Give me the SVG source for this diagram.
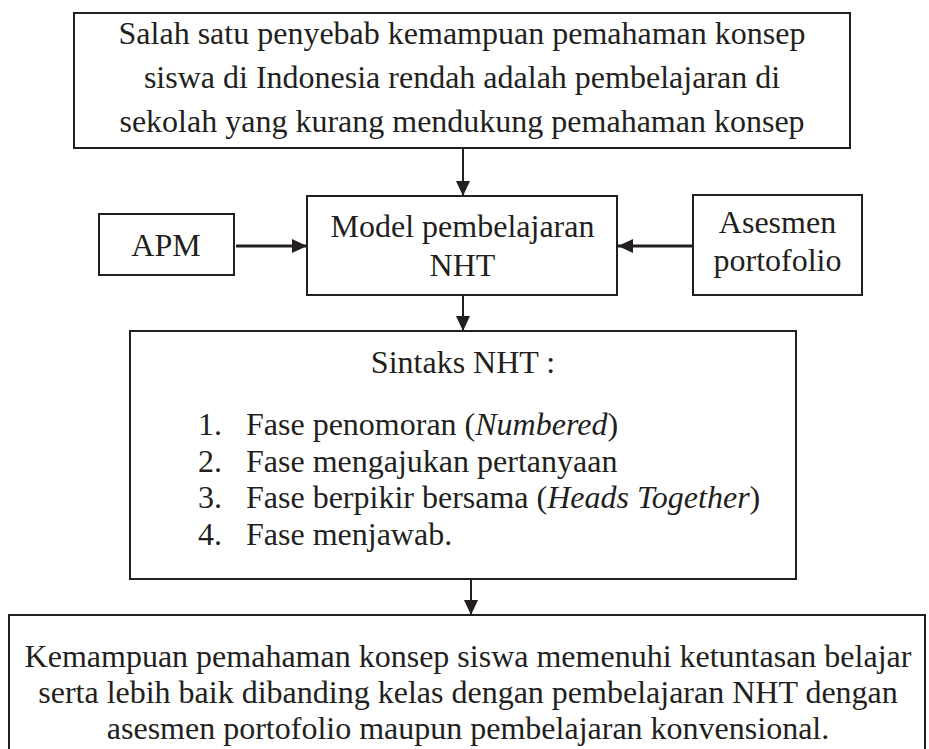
<svg xmlns="http://www.w3.org/2000/svg" width="929" height="749" viewBox="0 0 929 749">
<style>
.box{fill:#fff;stroke:#231f20;stroke-width:2}
.t{font-family:"Liberation Serif","Times New Roman",serif;font-size:32px;fill:#231f20;text-anchor:middle}
.l{font-family:"Liberation Serif","Times New Roman",serif;font-size:32px;fill:#231f20}
.c{stroke:#231f20;stroke-width:2;fill:none}
.h{stroke:#231f20;stroke-width:3;fill:none}
</style>
<defs>
<marker id="ah" viewBox="0 0 15 14" refX="15" refY="7" markerWidth="15" markerHeight="14" markerUnits="userSpaceOnUse" orient="auto">
<path d="M0,0 L15,7 L0,14 Z" fill="#231f20"/>
</marker>
</defs>
<rect width="929" height="749" fill="#fff"/>
<g id="connectors">
<line class="c" x1="463" y1="148" x2="463" y2="196" marker-end="url(#ah)"/>
<line class="h" x1="236" y1="246" x2="307" y2="246" marker-end="url(#ah)"/>
<line class="h" x1="693" y1="246" x2="618" y2="246" marker-end="url(#ah)"/>
<line class="c" x1="463" y1="295" x2="463" y2="331" marker-end="url(#ah)"/>
<line class="c" x1="471" y1="579" x2="471" y2="615" marker-end="url(#ah)"/>
</g>
<g id="problem">
<rect class="box" x="74" y="13" width="776" height="135"/>
<text class="t" x="462" y="44">Salah satu penyebab kemampuan pemahaman konsep</text>
<text class="t" x="462" y="88">siswa di Indonesia rendah adalah pembelajaran di</text>
<text class="t" x="462" y="132">sekolah yang kurang mendukung pemahaman konsep</text>
</g>
<g id="apm">
<rect class="box" x="99" y="214" width="135" height="61"/>
<text class="t" x="166" y="256">APM</text>
</g>
<g id="model">
<rect class="box" x="307" y="196" width="310" height="99"/>
<text class="t" x="462.5" y="237">Model pembelajaran</text>
<text class="t" x="462.5" y="276">NHT</text>
</g>
<g id="asesmen">
<rect class="box" x="693" y="195" width="169" height="100"/>
<text class="t" x="777.5" y="233">Asesmen</text>
<text class="t" x="777.5" y="271">portofolio</text>
</g>
<g id="sintaks">
<rect class="box" x="130" y="331" width="666" height="248"/>
<text class="t" x="463" y="373">Sintaks NHT :</text>
<text class="l" x="198" y="435">1.</text>
<text class="l" x="246" y="435">Fase penomoran (<tspan font-style="italic">Numbered</tspan>)</text>
<text class="l" x="198" y="472">2.</text>
<text class="l" x="246" y="472">Fase mengajukan pertanyaan</text>
<text class="l" x="198" y="508">3.</text>
<text class="l" x="246" y="508">Fase berpikir bersama (<tspan font-style="italic">Heads Together</tspan>)</text>
<text class="l" x="198" y="545">4.</text>
<text class="l" x="246" y="545">Fase menjawab.</text>
</g>
<g id="result">
<rect class="box" x="9" y="615" width="916" height="160"/>
<text class="t" x="468" y="667">Kemampuan pemahaman konsep siswa memenuhi ketuntasan belajar</text>
<text class="t" x="468" y="703">serta lebih baik dibanding  kelas dengan pembelajaran NHT dengan</text>
<text class="t" x="468" y="739">asesmen portofolio maupun pembelajaran konvensional.</text>
</g>
</svg>
